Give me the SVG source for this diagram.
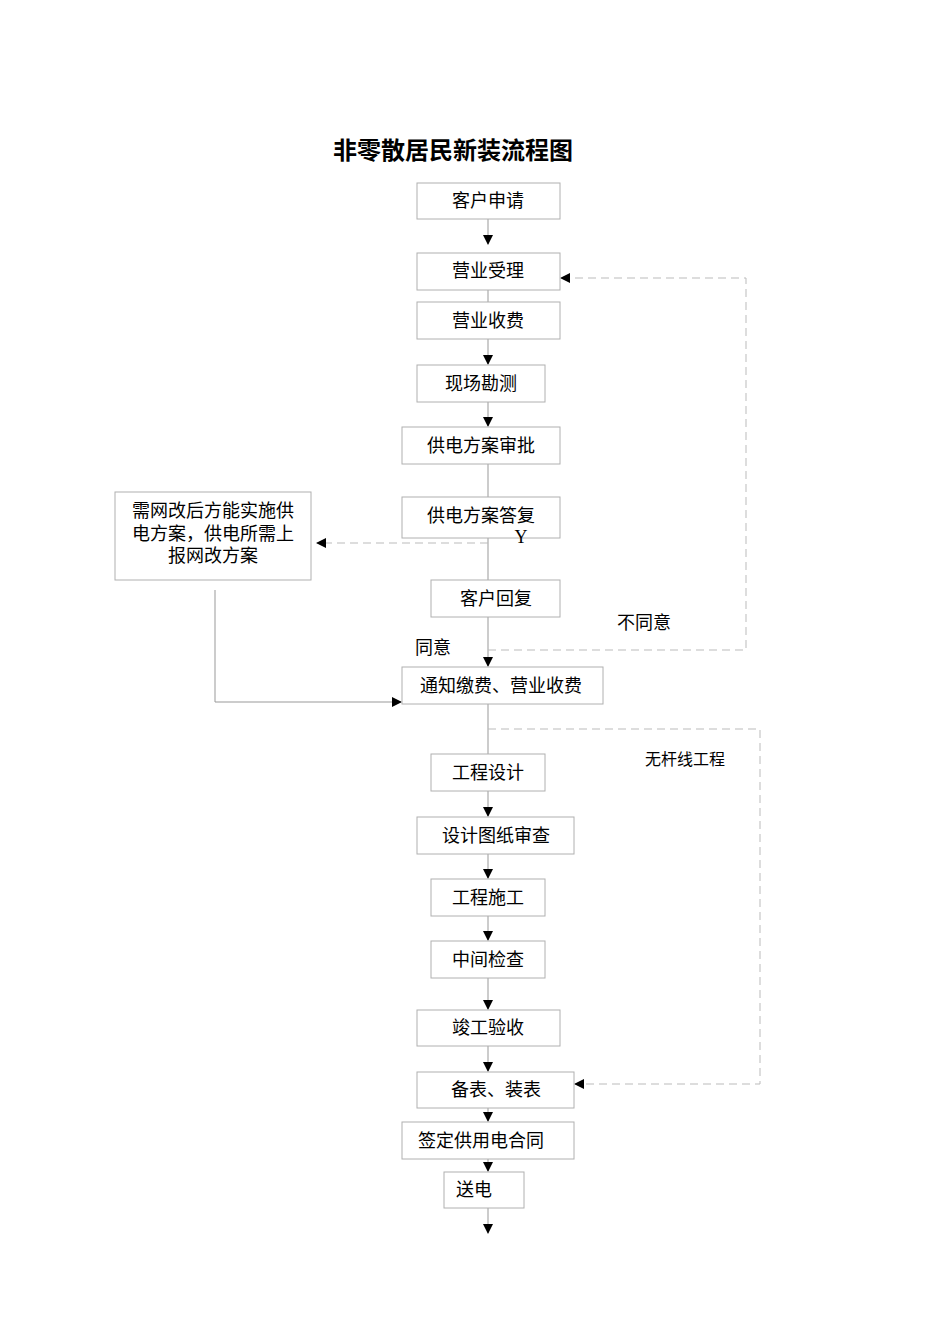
<svg xmlns="http://www.w3.org/2000/svg" width="950" height="1344" viewBox="0 0 950 1344">
<style>
.b{fill:#fff;stroke:#b0b0b0;stroke-width:1}
.t{font-family:"Liberation Serif","Noto Sans CJK SC",serif;font-size:18px;fill:#000;text-anchor:middle}
.s{font-family:"Liberation Serif","Noto Sans CJK SC",serif;font-size:16px;fill:#000;text-anchor:middle}
.l{stroke:#999;stroke-width:1;fill:none}
.d{stroke:#bbb;stroke-width:1;fill:none;stroke-dasharray:8,5}
</style>
<defs><marker id="a" markerWidth="10" markerHeight="10" refX="9" refY="5" orient="auto" markerUnits="userSpaceOnUse"><path d="M0,0L10,5L0,10z" fill="#000"/></marker></defs>
<rect width="950" height="1344" fill="#fff"/>
<text x="453" y="159" font-family="Liberation Serif,Noto Sans CJK SC,serif" font-size="24" font-weight="bold" text-anchor="middle">非零散居民新装流程图</text>
<g id="connectors">
<path class="l" d="M488,219V244" marker-end="url(#a)"/>
<path class="l" d="M488,290V312" marker-end="url(#a)"/>
<path class="l" d="M488,339V364" marker-end="url(#a)"/>
<path class="l" d="M488,402V426" marker-end="url(#a)"/>
<path class="l" d="M488,464V507" marker-end="url(#a)"/>
<path class="l" d="M488,538V580"/>
<path class="l" d="M488,617V666" marker-end="url(#a)"/>
<path class="l" d="M488,704V754"/>
<path class="l" d="M488,791V816" marker-end="url(#a)"/>
<path class="l" d="M488,854V878" marker-end="url(#a)"/>
<path class="l" d="M488,916V940" marker-end="url(#a)"/>
<path class="l" d="M488,978V1009" marker-end="url(#a)"/>
<path class="l" d="M488,1046V1071" marker-end="url(#a)"/>
<path class="l" d="M488,1108V1121" marker-end="url(#a)"/>
<path class="l" d="M488,1159V1171" marker-end="url(#a)"/>
<path class="l" d="M488,1208V1233" marker-end="url(#a)"/>
<path class="d" d="M488,543H317" marker-end="url(#a)"/>
<path class="d" d="M488,650H746V278H561" marker-end="url(#a)"/>
<path class="d" d="M488,729H760V1084H575" marker-end="url(#a)"/>
<path class="l" d="M215,590V702H401" marker-end="url(#a)"/>
</g>
<g id="n1"><rect class="b" x="417" y="183" width="143" height="36"/><text class="t" x="488" y="207">客户申请</text></g>
<g id="n2"><rect class="b" x="417" y="253" width="143" height="37"/><text class="t" x="488" y="277">营业受理</text></g>
<g id="n3"><rect class="b" x="417" y="302" width="143" height="37"/><text class="t" x="488" y="327">营业收费</text></g>
<g id="n4"><rect class="b" x="417" y="365" width="128" height="37"/><text class="t" x="481" y="390">现场勘测</text></g>
<g id="n5"><rect class="b" x="402" y="427" width="158" height="37"/><text class="t" x="481" y="452">供电方案审批</text></g>
<g id="n6"><rect class="b" x="402" y="497" width="158" height="41"/><text class="t" x="481" y="522">供电方案答复</text></g>
<g id="n7"><rect class="b" x="115" y="492" width="196" height="88"/><text class="t" x="213" y="517">需网改后方能实施供</text><text class="t" x="213" y="540">电方案，供电所需上</text><text class="t" x="213" y="562">报网改方案</text></g>
<g id="n8"><rect class="b" x="431" y="580" width="129" height="37"/><text class="t" x="496" y="605">客户回复</text></g>
<g id="n9"><rect class="b" x="402" y="667" width="201" height="37"/><text class="t" x="501" y="692">通知缴费、营业收费</text></g>
<g id="n10"><rect class="b" x="431" y="754" width="114" height="37"/><text class="t" x="488" y="779">工程设计</text></g>
<g id="n11"><rect class="b" x="417" y="817" width="157" height="37"/><text class="t" x="496" y="842">设计图纸审查</text></g>
<g id="n12"><rect class="b" x="431" y="879" width="114" height="37"/><text class="t" x="488" y="904">工程施工</text></g>
<g id="n13"><rect class="b" x="431" y="941" width="114" height="37"/><text class="t" x="488" y="966">中间检查</text></g>
<g id="n14"><rect class="b" x="417" y="1010" width="143" height="36"/><text class="t" x="488" y="1034">竣工验收</text></g>
<g id="n15"><rect class="b" x="417" y="1072" width="157" height="36"/><text class="t" x="496" y="1096">备表、装表</text></g>
<g id="n16"><rect class="b" x="402" y="1122" width="172" height="37"/><text class="t" x="481" y="1147">签定供用电合同</text></g>
<g id="n17"><rect class="b" x="444" y="1172" width="80" height="36"/><text class="t" x="474" y="1196">送电</text></g>
<text class="t" x="521" y="543">Y</text>
<text class="t" x="644" y="629">不同意</text>
<text class="t" x="433" y="654">同意</text>
<text class="s" x="685" y="765">无杆线工程</text>
</svg>
